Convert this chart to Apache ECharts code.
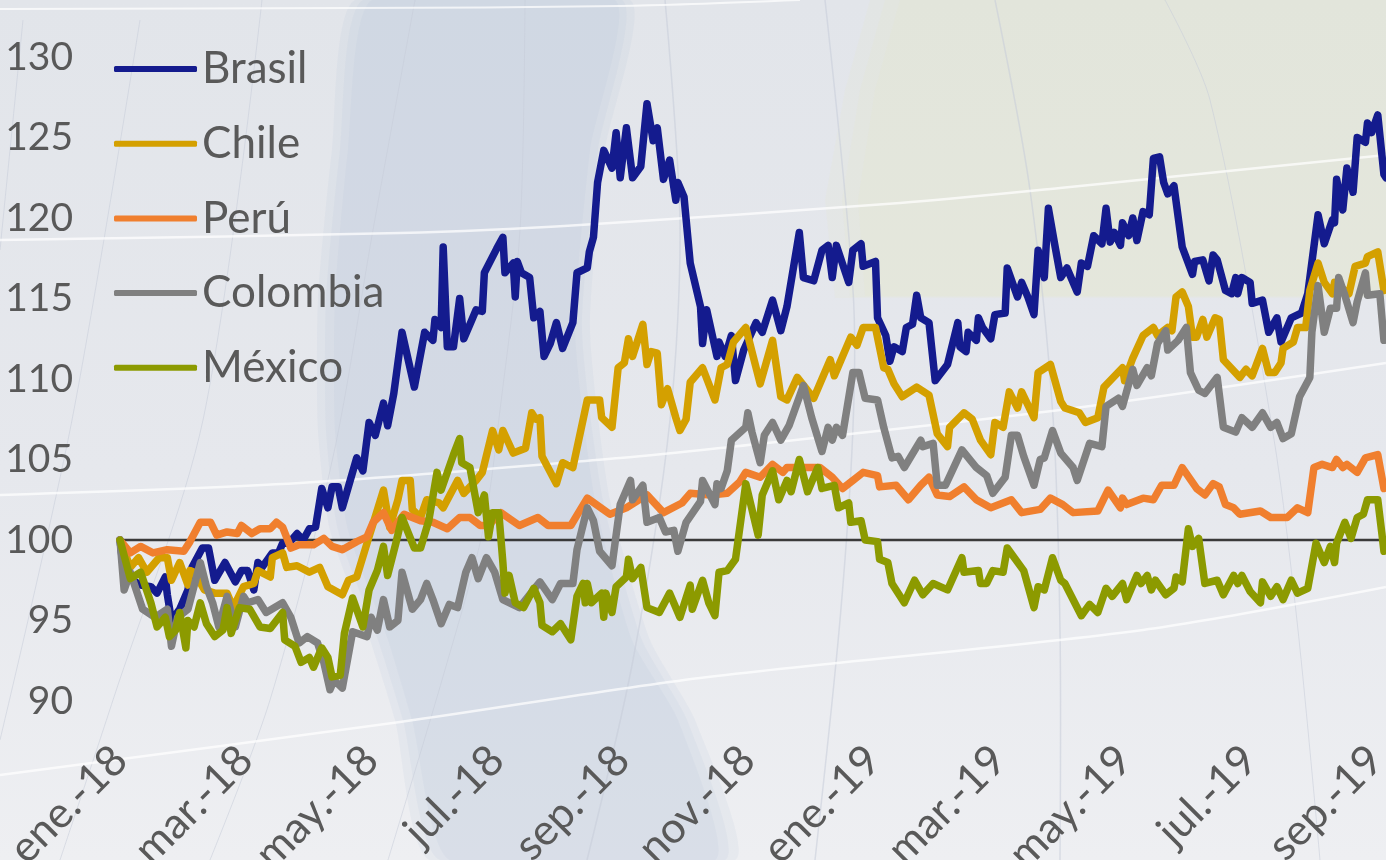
<!DOCTYPE html>
<html><head><meta charset="utf-8">
<style>html,body{margin:0;padding:0;background:#e6e8ed;overflow:hidden}#c{width:1386px;height:860px;filter:blur(0.7px)}</style>
<script src="https://cdn.jsdelivr.net/npm/echarts@6/dist/echarts.min.js"></script></head>
<body><div id="c"></div>
<script>
const xTickLabels=['ene.-18','mar.-18','may.-18','jul.-18','sep.-18','nov.-18','ene.-19','mar.-19','may.-19','jul.-19','sep.-19'];
const seriesNames=['Brasil','Chile','Perú','Colombia','México'];
// [days since start, index value]
const brasil=[[0,100],[2,97.8],[10,97.2],[15,97.1],[18,96.7],[22,97.7],[23,96.6],[25,95],[29,95.7],[33,96.9],[35,98.3],[40,99.5],[43,99.5],[46,97.5],[51,98.6],[56,97.4],[59,98.1],[62,98.1],[65,96.9],[67,98.6],[69,98.3],[74,99.2],[77,99.2],[79,99.8],[82,99.8],[86,100.4],[89,100],[92,100.7],[95,100.8],[98,103.2],[101,102],[103,103.3],[106,103.3],[108,102],[115,105.1],[118,104.3],[121,107.3],[124,106.5],[128,108.5],[130,107.1],[133,109.1],[137,112.9],[143,109.5],[148,112.9],[152,112.4],[153,113.7],[156,113.2],[157,118.2],[159,112],[162,112],[165,115],[167,112.5],[171,113.7],[173,114.3],[176,114.2],[177,116.6],[183,118.1],[186,118.8],[187,116.6],[191,117.2],[192,115.1],[193,117.3],[195,116.6],[199,116.3],[201,113.8],[204,114.2],[206,111.4],[209,112.2],[212,113.5],[215,111.9],[220,113.5],[222,116.6],[227,116.9],[228,117.9],[230,118.8],[232,122.2],[235,124.2],[239,123.1],[241,125.3],[243,122.5],[246,125.6],[249,122.5],[253,123.2],[256,127.1],[259,124.8],[261,125.6],[264,122.4],[267,123.6],[270,121.1],[271,122.2],[274,121.3],[277,117.2],[282,114.5],[283,112.2],[285,114.3],[290,111.4],[291,112.3],[294,111.4],[297,112.7],[299,109.9],[303,111.8],[309,113.5],[312,112.9],[317,114.9],[321,113],[324,114.5],[330,119.1],[332,116.3],[337,116.1],[341,118],[344,118.3],[346,116.3],[348,118.3],[354,116],[356,118],[360,118.4],[361,117],[367,117.3],[368,113.8],[372,112.7],[374,111.1],[376,112],[380,111.7],[382,113.2],[385,113.4],[387,115.2],[389,113.8],[393,113.5],[396,109.9],[402,110.9],[407,113.5],[408,112],[411,111.7],[412,112.9],[416,112.4],[417,113.8],[419,113.2],[423,112.5],[425,114],[430,114.1],[431,116.9],[436,115.1],[438,116],[441,115.1],[444,114],[446,118],[449,116.3],[451,120.6],[454,118.4],[457,116.3],[460,116.9],[465,115.4],[467,117.2],[470,117],[473,118.9],[477,118.4],[479,120.6],[481,118.5],[483,119.1],[486,118.3],[487,119.7],[490,118.9],[492,120],[494,118.6],[497,120.4],[500,120.2],[502,123.7],[505,123.8],[507,122.2],[509,121.5],[512,122],[514,120.1],[516,118.2],[521,116.5],[522,117.3],[526,117.4],[529,116.1],[531,117.7],[533,117.4],[537,115.5],[540,115.3],[542,116.3],[543,115.3],[545,116.3],[549,116],[550,114.7],[555,114.9],[558,112.9],[562,113.8],[564,112.3],[567,113.2],[569,113.8],[574,114.1],[577,115.3],[582,120.2],[585,118.4],[589,119.9],[590,119.7],[591,122.4],[594,120.5],[596,123.1],[599,121.6],[601,125],[605,124.7],[606,125.9],[608,125.3],[611,126.4],[614,122.7],[615,122.5]];
const chile=[[0,100],[5,98.3],[9,98.9],[13,98],[19,98.9],[23,98.9],[25,97.5],[29,98.6],[33,97.2],[34,98.1],[36,98],[41,96.9],[46,96.7],[52,96.7],[55,95.8],[60,97.1],[65,97.3],[67,98.1],[73,97.7],[74,98.9],[79,99.2],[81,98.3],[86,98.4],[92,98],[97,98.3],[101,97.1],[108,96.6],[111,97.5],[115,97.7],[120,99.8],[128,103.1],[131,100.8],[135,102.5],[137,103.7],[141,103.7],[142,101.9],[146,101.4],[149,102.5],[155,102.3],[157,102],[164,103.7],[167,102.9],[173,103.7],[176,104.2],[181,106.8],[184,105.6],[186,106.8],[191,105.4],[197,105.7],[200,107.9],[202,107.5],[204,107.6],[205,105.2],[212,103.5],[215,104.8],[220,104.5],[227,108.7],[233,108.7],[234,107.6],[239,107],[242,110.7],[245,111],[247,112.5],[249,111.4],[254,113.4],[256,110.9],[258,111.7],[261,111.6],[263,108.4],[266,109.4],[270,107.6],[272,106.8],[275,107.5],[277,109.8],[283,110.7],[289,108.7],[292,110.7],[295,110.9],[298,112.3],[304,113.2],[311,109.7],[317,112.4],[321,108.9],[324,108.7],[329,110.1],[337,108.8],[340,109.7],[345,111.2],[347,110.2],[355,112.6],[358,112.1],[361,113.2],[367,113.2],[371,110.7],[373,110.6],[376,109.7],[380,108.9],[387,109.5],[393,109],[397,106.6],[402,105.8],[403,107],[410,107.9],[414,107.5],[418,106.2],[423,105.3],[425,107.3],[429,107],[432,109.2],[436,108.2],[438,109.2],[444,107.6],[446,110.4],[452,110.9],[457,108.6],[459,108.2],[466,107.9],[469,107.3],[475,107.6],[478,109.5],[487,110.7],[488,109.9],[492,111.3],[497,112.7],[502,113.2],[504,112.7],[509,113.2],[511,113],[513,115.1],[516,115.4],[519,114.5],[521,112.6],[523,112.6],[526,113.7],[528,112.6],[532,113.8],[534,113.7],[536,111.2],[544,110.1],[547,110.6],[550,110.2],[555,111.9],[558,110.4],[561,110.4],[564,111],[565,111.9],[570,112.3],[572,113.2],[576,113.2],[578,115.5],[582,117.2],[585,116],[589,115.3],[590,116],[597,115.3],[600,117],[605,117.2],[606,117.6],[611,117.9],[614,115.5]];
const peru=[[0,100],[5,99.2],[10,99.6],[16,99.2],[23,99.4],[31,99.3],[34,99.9],[39,101.1],[44,101.1],[47,100.3],[52,100.5],[57,100.4],[59,100.9],[64,100.4],[68,100.7],[73,100.7],[76,101.1],[79,100.8],[83,99.5],[87,99.7],[94,99.7],[99,100.1],[103,99.6],[108,99.4],[115,99.9],[120,100.2],[123,101.1],[128,101.7],[132,100.6],[138,101.6],[146,101.2],[152,101.1],[159,100.7],[165,101.4],[170,101.4],[175,100.9],[179,100.9],[185,101.7],[194,100.9],[203,101.4],[208,100.9],[219,100.9],[227,102.6],[238,101.6],[246,102],[256,102.8],[264,101.7],[273,102.3],[277,102.9],[287,102.8],[295,102.9],[301,103.6],[304,104.2],[311,103.9],[317,104.7],[322,104.2],[324,104.5],[335,104.5],[340,104.5],[346,103.9],[351,103.2],[356,103.7],[361,104.2],[368,104],[369,103.3],[377,103.4],[383,102.5],[389,103.4],[393,103.9],[397,102.8],[403,102.7],[410,103.3],[416,102.5],[423,102],[433,102.5],[438,101.7],[447,101.9],[452,102.6],[458,102.2],[463,101.7],[475,101.8],[480,103.1],[486,102],[487,102.6],[489,102.2],[497,102.6],[502,102.5],[506,103.4],[512,103.4],[516,104.5],[523,103.2],[527,102.8],[531,103.5],[534,103.3],[537,102.2],[541,102],[544,101.6],[554,101.8],[559,101.4],[567,101.4],[572,102],[577,101.7],[580,104.5],[584,104.7],[589,104.5],[591,105],[594,104.5],[596,104.7],[601,104.2],[605,105.1],[611,105.3],[614,103.2]];
const colombia=[[0,100],[2,96.9],[5,98],[11,95.7],[17,95.2],[23,95.7],[25,93.4],[28,95.2],[33,95.7],[39,98.6],[42,97.1],[45,96.1],[48,94.6],[52,96.5],[56,94.6],[60,96.5],[62,96.1],[67,96.3],[71,95.5],[79,96.1],[83,95.2],[87,93.6],[91,94],[96,93.6],[99,92.4],[102,90.7],[104,91.3],[108,90.8],[113,94.3],[120,94],[122,95.2],[125,94.4],[128,96.3],[131,94.6],[135,95],[137,98],[142,95.7],[146,96.3],[149,97.3],[152,96.3],[156,94.8],[160,96],[164,95.8],[168,98],[171,98.9],[174,97.6],[178,98.9],[182,98],[186,96.3],[194,95.8],[204,97.4],[210,96.3],[214,97.3],[220,97.3],[222,99.4],[227,102],[230,101.2],[233,99.3],[239,98.4],[243,102.2],[248,103.7],[249,102.5],[254,103.4],[256,101.1],[262,101.4],[265,100.5],[269,100.6],[271,99.3],[275,101.1],[282,102.4],[283,103.7],[289,102.2],[290,103.5],[292,103.2],[295,104.3],[297,106.2],[304,107],[305,107.9],[307,106.7],[311,104.8],[313,106.5],[317,107.3],[321,106.2],[325,107.1],[332,109.6],[336,107.6],[341,105.5],[344,107],[346,106.2],[348,107],[351,106.5],[356,110.4],[359,110.4],[362,108.8],[368,108.7],[371,107],[375,105.1],[378,105.2],[381,104.5],[389,106.2],[390,105.8],[395,106],[397,103.4],[401,103.4],[409,105.6],[416,104.5],[421,104],[424,102.9],[430,103.9],[433,106.5],[436,106.5],[439,105.2],[444,103.4],[447,105],[449,105.1],[453,106.8],[457,105.4],[463,104.5],[465,103.7],[471,106],[477,105.8],[479,108.3],[485,108.8],[487,108.3],[492,110.6],[494,109.6],[499,110.7],[501,110.2],[504,112.2],[508,113],[509,111.8],[514,112.4],[518,113.2],[520,110.4],[524,109.3],[527,109.1],[533,110.1],[536,107],[542,106.7],[545,107.6],[550,107],[555,107.9],[559,107],[562,107.3],[565,106.3],[569,106.6],[573,108.9],[578,110.1],[579,112.9],[582,115.8],[585,112.9],[588,114.4],[591,114.4],[592,116.3],[595,115.2],[599,113.5],[601,114.8],[605,116.6],[606,115.2],[612,115.3],[614,112.4]];
const mexico=[[0,100],[5,97.6],[10,98],[15,96.1],[18,94.6],[22,95.2],[24,94],[27,94.4],[29,95.5],[32,93.3],[33,95],[36,94.6],[39,96.1],[42,94.8],[46,94],[50,94.4],[52,95.8],[54,94.2],[58,95.8],[63,95.7],[68,94.6],[73,94.5],[79,95.5],[80,93.8],[85,93.4],[88,92.4],[92,92.7],[94,92.1],[98,93.3],[101,92.7],[103,91.5],[107,91.6],[109,94.2],[113,96.4],[118,94.6],[121,96.9],[125,98.1],[128,99.6],[130,97.8],[134,99.8],[137,101.4],[143,99.5],[146,99.5],[150,101.2],[154,104.2],[156,103.1],[159,104.2],[162,105.3],[165,106.3],[166,104.8],[170,104.5],[174,101.7],[177,102.8],[179,100.2],[181,101.7],[184,101.7],[186,98.6],[187,96.7],[189,97.8],[192,96.1],[196,95.8],[201,97],[204,96.1],[205,94.7],[210,94.3],[214,94.8],[219,93.8],[222,96.5],[225,97.3],[226,96.1],[227,97.3],[229,96.1],[234,96.7],[235,95.2],[236,96.7],[239,95.5],[241,97.1],[246,97.7],[247,98.8],[249,97.6],[253,98.3],[256,95.8],[262,95.5],[267,96.7],[272,95.2],[277,97.2],[278,95.7],[283,97.5],[286,96.1],[289,95.3],[291,98],[295,98.1],[299,98.8],[304,103.5],[310,100.3],[312,102.8],[317,104.3],[320,102.5],[324,103.7],[326,103],[330,105],[334,103],[339,104.5],[341,103.2],[347,103.4],[349,102],[354,102.3],[355,101.1],[360,101.2],[362,100],[368,99.9],[369,98.8],[373,98.6],[375,97.3],[381,96.1],[386,97.5],[390,96.6],[395,97.3],[402,96.9],[409,98.9],[410,98],[417,98.1],[418,97.3],[421,97.3],[424,98.1],[429,98],[431,99.5],[439,98.1],[444,95.8],[446,97.1],[449,96.9],[453,98.9],[457,97.5],[459,97.3],[467,95.3],[471,96],[475,95.5],[479,97],[482,96.5],[487,97.3],[489,96.3],[494,97.8],[496,97.3],[499,97.8],[501,96.9],[503,97.5],[508,96.6],[512,97],[513,97.7],[516,97.4],[519,100.7],[521,99.6],[524,100.1],[527,97.3],[533,97.5],[536,96.6],[541,97.8],[543,97.3],[545,97.8],[549,96.8],[554,96.1],[555,97.4],[559,96.5],[562,97.1],[565,96.3],[569,97.5],[572,96.7],[577,97],[581,99.8],[585,98.6],[588,99.6],[590,98.6],[591,99.8],[595,101.1],[598,100.1],[601,101.4],[604,101.6],[606,102.5],[611,102.5],[613,100.4],[614,99.3]];
const baseline=[[0,100],[615,100]];
const seriesData=[brasil,chile,peru,colombia,mexico];
const colors=['#141b8e','#d4a000','#f07f2e','#808080','#8c9a00'];

function poly(pts,stroke,w){return{type:'polyline',silent:true,z:-10,shape:{points:pts,smooth:0.3},style:{stroke:stroke,lineWidth:w,fill:null}}}
function area(pts,fill){return{type:'polygon',silent:true,z:-20,shape:{points:pts,smooth:0.2},style:{fill:fill}}}
const meridian='rgba(198,204,216,0.55)',whiteLine='rgba(255,255,255,0.72)';
const bandFill='rgba(174,190,214,0.125)',yellowFill='rgba(228,232,190,0.13)';
const decor=[
 {type:'rect',silent:true,z:-30,shape:{x:0,y:0,width:1386,height:860},style:{fill:new echarts.graphic.LinearGradient(0,0,0,1,[{offset:0,color:'#e2e5ea'},{offset:.55,color:'#e6e8ed'},{offset:1,color:'#eeeff2'}])}},
 {type:'polygon',silent:true,z:-20,shape:{points:[[870,0],[1386,0],[1386,298],[835,298],[825,200],[845,90]]},style:{fill:yellowFill}},
 {type:'polygon',silent:true,z:-20,shape:{points:[[885,0],[1386,0],[1386,297],[850,297],[842,200],[860,90]]},style:{fill:yellowFill}},
 {type:'polygon',silent:true,z:-20,shape:{points:[[900,0],[1386,0],[1386,296],[865,296],[858,200],[875,90]]},style:{fill:yellowFill}},
 area([[355,0],[630,0],[605,150],[590,330],[610,500],[650,640],[695,720],[735,860],[430,860],[395,720],[370,640],[330,530],[318,430],[318,300],[332,150]],bandFill),
 area([[363,0],[622,0],[598,150],[582,330],[603,500],[642,640],[687,720],[725,860],[440,860],[403,720],[378,640],[338,530],[326,430],[326,300],[340,150]],bandFill),
 area([[372,0],[615,0],[590,150],[575,330],[595,500],[632,640],[678,720],[715,860],[450,860],[412,720],[388,640],[348,530],[335,430],[335,300],[348,150]],bandFill),
 poly([[23,20],[0,250]],meridian,1),
 poly([[140,20],[72,420],[0,740]],meridian,1),
 poly([[262,0],[203,420],[113,700],[60,860]],meridian,1),
 poly([[415,0],[373,230],[333,457],[270,700],[210,860]],meridian,1),
 poly([[525,0],[520,230],[500,410],[483,530],[442,680],[388,860]],meridian,1),
 poly([[665,0],[680,223],[670,420],[633,660],[587,860]],meridian,1.5),
 poly([[825,0],[853,290],[853,427],[840,620],[815,860]],meridian,1.5),
 poly([[995,0],[1030,190],[1053,417],[1060,630],[1060,860]],meridian,1.5),
 poly([[1165,0],[1210,100],[1273,433],[1298,630],[1320,860]],meridian,1),
 poly([[0,775],[400,722],[700,678],[1143,630],[1386,587]],whiteLine,2.5),
 poly([[0,495],[300,483],[620,458],[720,448],[1060,410],[1386,363]],whiteLine,2.5),
 poly([[0,240],[400,233],[580,225],[900,203],[1060,188],[1386,155]],whiteLine,2.5),
 poly([[0,9],[350,8],[620,6],[800,0]],whiteLine,2)
];
const fontFamily='Lato, "Open Sans", sans-serif';
const chart=echarts.init(document.getElementById('c'),null,{renderer:'canvas'});
chart.setOption({
 animation:false,
 textStyle:{fontFamily:fontFamily},
 graphic:{elements:decor},
 legend:{show:true,data:seriesNames,orient:'vertical',left:109,top:42,itemWidth:83,itemHeight:6,itemGap:30.7,icon:'roundRect',
  textStyle:{fontFamily:fontFamily,fontSize:44,color:'#595959',lineHeight:40},selectedMode:false},
 grid:{left:120,right:0,top:57,height:644,containLabel:false,outerBoundsMode:'none'},
 xAxis:{type:'value',min:0,max:615,interval:61,axisLine:{show:false},axisTick:{show:false},splitLine:{show:false},
  axisLabel:{rotate:45,margin:52,fontFamily:fontFamily,fontSize:43,color:'#595959',hideOverlap:false,
   formatter:function(v){return xTickLabels[Math.round(v/61)]&&v%61===0?xTickLabels[v/61]:''}}},
 yAxis:{type:'value',min:90,max:130,interval:5,axisLine:{show:false},axisTick:{show:false},splitLine:{show:false},
  axisLabel:{margin:47,fontFamily:fontFamily,fontSize:39,color:'#595959'}},
 series:[{type:'line',name:'base',data:baseline,symbol:'none',silent:true,lineStyle:{color:'#3a3a3a',width:2.6},z:1}]
  .concat(seriesNames.map(function(n,i){return{type:'line',name:n,data:seriesData[i],symbol:'none',showSymbol:false,z:2+i,
    itemStyle:{color:colors[i]},lineStyle:{color:colors[i],width:7.5,join:'round',cap:'round'}}}))
});
</script></body></html>
